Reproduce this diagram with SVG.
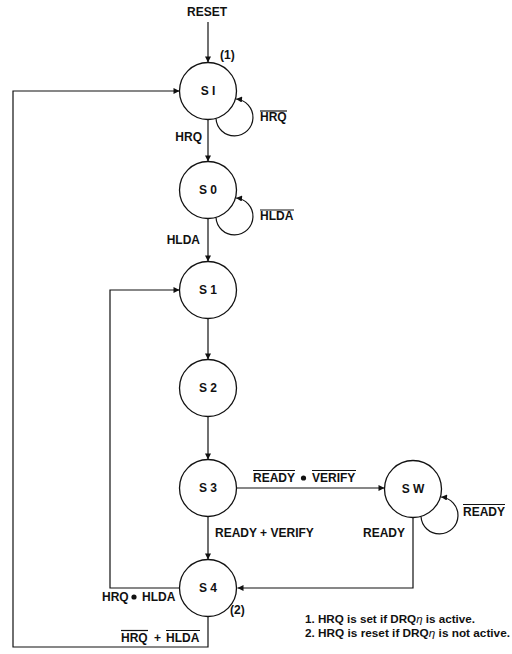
<svg xmlns="http://www.w3.org/2000/svg" width="512" height="654" viewBox="0 0 512 654">
<style>
text{font-family:"Liberation Sans",Arial,sans-serif;font-weight:bold;font-size:12px;fill:#111}
.n{text-anchor:middle}
.fn{font-size:11.5px}
circle.st{fill:#fff;stroke:#111;stroke-width:1.3}
.c path,.c line,.ob{fill:none;stroke:#111;stroke-width:1.2}
.dot{fill:#111}
</style>
<defs>
<marker id="arr" viewBox="0 0 10 10" refX="10" refY="5" markerWidth="8" markerHeight="6" orient="auto" markerUnits="userSpaceOnUse"><path d="M0,0 L10,5 L0,10 z" fill="#111"/></marker>
</defs>
<g id="connectors" class="c">
<path d="M208,22 V62.5" marker-end="url(#arr)"/>
<path d="M208,119.5 V161.5" marker-end="url(#arr)"/>
<path d="M208,218.5 V261.5" marker-end="url(#arr)"/>
<path d="M208,318.5 V359.5" marker-end="url(#arr)"/>
<path d="M208,416.5 V459.5" marker-end="url(#arr)"/>
<path d="M208,516.5 V559.5" marker-end="url(#arr)"/>
<path d="M236.5,488 H384.5" marker-end="url(#arr)"/>
<path d="M413,517.5 V588 H237.5" marker-end="url(#arr)"/>
<path d="M179.5,588 H110 V290 H179.5" marker-end="url(#arr)"/>
<path d="M208,616.5 V647 H13 V91 H179.5" marker-end="url(#arr)"/>
<path d="M216,118.5 A18.5,18.5 0 1 0 236,99" marker-end="url(#arr)"/>
<path d="M216,217.5 A18.5,18.5 0 1 0 236,198" marker-end="url(#arr)"/>
<path d="M421,516.5 A18.5,18.5 0 1 0 441,497" marker-end="url(#arr)"/>
</g>
<g id="SI"><circle class="st" cx="208" cy="91" r="28.5"/><text class="n" x="208" y="95">S I</text></g>
<g id="S0"><circle class="st" cx="208" cy="190" r="28.5"/><text class="n" x="208" y="194">S 0</text></g>
<g id="S1"><circle class="st" cx="208" cy="290" r="28.5"/><text class="n" x="208" y="294">S 1</text></g>
<g id="S2"><circle class="st" cx="208" cy="388" r="28.5"/><text class="n" x="208" y="392">S 2</text></g>
<g id="S3"><circle class="st" cx="208" cy="488" r="28.5"/><text class="n" x="208" y="492">S 3</text></g>
<g id="SW"><circle class="st" cx="413" cy="489" r="28.5"/><text class="n" x="413" y="493">S W</text></g>
<g id="S4"><circle class="st" cx="208" cy="588" r="28.5"/><text class="n" x="208" y="592">S 4</text></g>
<g id="labels">
<text class="n" x="207" y="16">RESET</text>
<text x="220" y="59">(1)</text>
<text x="202" y="141" text-anchor="end">HRQ</text>
<text x="260" y="121">HRQ</text><line class="ob" x1="260" y1="111" x2="287" y2="111"/>
<text x="200" y="244" text-anchor="end">HLDA</text>
<text x="260" y="220">HLDA</text><line class="ob" x1="260" y1="210" x2="294" y2="210"/>
<text x="253" y="482">READY</text><line class="ob" x1="253" y1="470.5" x2="295" y2="470.5"/>
<circle class="dot" cx="303.5" cy="478" r="2.6"/>
<text x="312" y="482">VERIFY</text><line class="ob" x1="312" y1="470.5" x2="356" y2="470.5"/>
<text x="463" y="516">READY</text><line class="ob" x1="463" y1="504.5" x2="505" y2="504.5"/>
<text x="215" y="537">READY + VERIFY</text>
<text x="363" y="537">READY</text>
<text x="102" y="601">HRQ</text>
<circle class="dot" cx="134" cy="597" r="2.6"/>
<text x="142" y="601">HLDA</text>
<text x="121" y="642">HRQ</text><line class="ob" x1="121" y1="630.5" x2="148" y2="630.5"/>
<text x="154" y="642">+</text>
<text x="166" y="642">HLDA</text><line class="ob" x1="166" y1="630.5" x2="200" y2="630.5"/>
<text x="230" y="614">(2)</text>
<text class="fn" x="305" y="623" textLength="170" lengthAdjust="spacingAndGlyphs">1. HRQ is set if DRQ<tspan font-style="italic" font-weight="normal">η</tspan> is active.</text>
<text class="fn" x="305" y="637" textLength="205" lengthAdjust="spacingAndGlyphs">2. HRQ is reset if DRQ<tspan font-style="italic" font-weight="normal">η</tspan> is not active.</text>
</g>
</svg>
